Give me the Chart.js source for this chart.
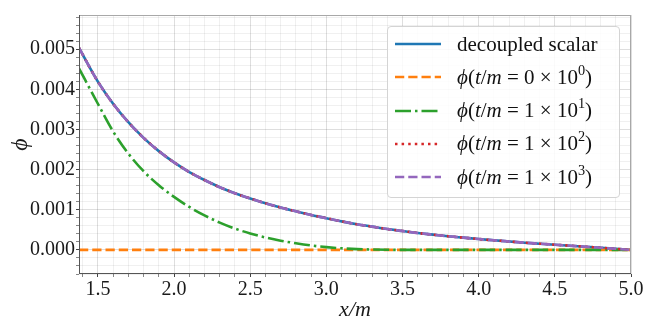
<!DOCTYPE html>
<html lang="en">
<head>
<meta charset="UTF-8">
<title>decoupled scalar</title>
<script src="https://cdn.jsdelivr.net/npm/chart.js"></script>
<style>
  body { margin: 0; background: #fff; }
  #wrap { position: relative; width: 665px; height: 323px; }
  #legend {
    position: absolute; left: 387px; top: 26px; width: 233px; height: 172px;
    box-sizing: border-box; border: 1px solid #d4d4d4; border-radius: 4px;
    background: rgba(255,255,255,0.85);
    font-family: 'Liberation Serif', serif; font-size: 21px; color: #111;
  }
  .row { position: absolute; left: 0; height: 30px; display: flex; align-items: center; white-space: nowrap; }
  .row svg { margin-left: 7px; margin-right: 16px; }
  sup { font-size: 0.68em; line-height: 0; vertical-align: 0.6em; }
</style>
</head>
<body>
<div id="wrap">
  <canvas id="c" width="665" height="323"></canvas>
  <div id="legend"></div>
</div>
<script>
// x/m sample positions
const xs = [1.376, 1.5, 1.6, 1.7, 1.8, 1.9, 2.0, 2.1, 2.2, 2.3, 2.4, 2.5, 2.6, 2.7, 2.8, 2.9,
            3.0, 3.1, 3.2, 3.3, 3.4, 3.5, 3.6, 3.7, 3.8, 3.9, 4.0, 4.1, 4.2, 4.3, 4.4, 4.5,
            4.6, 4.7, 4.8, 4.9, 5.0];
// decoupled scalar
const decoupled = [0.00503, 0.00419, 0.00364, 0.00318, 0.00279, 0.00246, 0.00218, 0.00194, 0.00174, 0.00156, 0.00141, 0.00128, 0.00116, 0.001055, 0.00096, 0.00087,
                   0.00079, 0.00071, 0.00064, 0.00058, 0.00052, 0.00047, 0.00042, 0.00038, 0.00034, 0.000305, 0.00027, 0.00024, 0.00021, 0.00018, 0.000155, 0.00013,
                   0.000105, 0.00008, 0.000055, 0.000027, 0.0];
// phi at t/m = 0, 10, 100, 1000
const phiT0 = [0, 0, 0, 0, 0, 0, 0, 0, 0, 0, 0, 0, 0, 0, 0, 0, 0, 0, 0, 0, 0, 0, 0, 0, 0, 0, 0, 0, 0, 0, 0, 0, 0, 0, 0, 0, 0];
const phiT1 = [0.00452, 0.00364, 0.00295, 0.00240, 0.00196, 0.00161, 0.00132, 0.00107, 0.00086, 0.00068, 0.00053, 0.00041, 0.00031, 0.00023, 0.000165, 0.00011,
               0.00007, 0.00004, 0.00002, 0.00001, 0.000004, 0, 0, 0, 0, 0, 0, 0, 0, 0, 0, 0,
               0, 0, 0, 0, 0];
const phiT2 = [0.00503, 0.00419, 0.00364, 0.00318, 0.00279, 0.00246, 0.00218, 0.00194, 0.00174, 0.00156, 0.00141, 0.00128, 0.00116, 0.001055, 0.00096, 0.00087,
               0.00079, 0.00071, 0.00064, 0.00058, 0.00052, 0.00047, 0.00042, 0.00038, 0.00034, 0.000305, 0.00027, 0.00024, 0.00021, 0.00018, 0.000155, 0.00013,
               0.000105, 0.00008, 0.000055, 0.000027, 0.0];
const phiT3 = [0.00503, 0.00419, 0.00364, 0.00318, 0.00279, 0.00246, 0.00218, 0.00194, 0.00174, 0.00156, 0.00141, 0.00128, 0.00116, 0.001055, 0.00096, 0.00087,
               0.00079, 0.00071, 0.00064, 0.00058, 0.00052, 0.00047, 0.00042, 0.00038, 0.00034, 0.000305, 0.00027, 0.00024, 0.00021, 0.00018, 0.000155, 0.00013,
               0.000105, 0.00008, 0.000055, 0.000027, 0.0];

const xRange = [1.376, 5.0];
const yRange = [-0.0006, 0.00585];

const legendHtml = [
  'decoupled scalar',
  '<i>ϕ</i>(<i>t</i>/<i>m</i> = 0 × 10<sup>0</sup>)',
  '<i>ϕ</i>(<i>t</i>/<i>m</i> = 1 × 10<sup>1</sup>)',
  '<i>ϕ</i>(<i>t</i>/<i>m</i> = 1 × 10<sup>2</sup>)',
  '<i>ϕ</i>(<i>t</i>/<i>m</i> = 1 × 10<sup>3</sup>)'
];

const series = [
  { data: decoupled, color: '#1f77b4', dash: [] },
  { data: phiT0, color: '#ff7f0e', dash: [9.25, 4] },
  { data: phiT1, color: '#2ca02c', dash: [16, 4, 2.5, 4] },
  { data: phiT2, color: '#d62728', dash: [2.5, 4.1] },
  { data: phiT3, color: '#9467bd', dash: [9.25, 4] }
];

const LW = 2.6;
const datasets = series.map((s, i) => ({
  data: xs.map((x, j) => ({ x: x, y: s.data[j] })),
  borderColor: s.color,
  borderWidth: LW,
  borderDash: s.dash,
  borderCapStyle: 'butt',
  pointRadius: 0,
  fill: false,
  cubicInterpolationMode: 'monotone',
  order: series.length - i
}));

// legend (HTML overlay)
const leg = document.getElementById('legend');
series.forEach((s, i) => {
  const row = document.createElement('div');
  row.className = 'row';
  row.style.top = (2 + i * 33.33) + 'px';
  row.innerHTML = '<svg width="46" height="6"><line x1="0" y1="3" x2="46" y2="3" stroke="' + s.color +
    '" stroke-width="' + LW + '" stroke-dasharray="' + (s.dash.length ? s.dash.join(' ') : 'none') + '"/></svg>' +
    '<span>' + legendHtml[i] + '</span>';
  leg.appendChild(row);
});

const frame = {
  id: 'frame',
  afterDatasetsDraw(chart) {
    const { ctx, chartArea: a } = chart;
    ctx.save();
    ctx.lineWidth = 1;
    ctx.strokeStyle = '#a8a8a8';
    ctx.beginPath();
    ctx.moveTo(a.left, a.top + 0.5); ctx.lineTo(a.right, a.top + 0.5);
    ctx.moveTo(a.right - 0.5, a.top); ctx.lineTo(a.right - 0.5, a.bottom);
    ctx.stroke();
    ctx.strokeStyle = '#555';
    ctx.beginPath();
    ctx.moveTo(a.left + 0.5, a.top); ctx.lineTo(a.left + 0.5, a.bottom);
    ctx.moveTo(a.left, a.bottom - 0.5); ctx.lineTo(a.right, a.bottom - 0.5);
    ctx.stroke();
    ctx.restore();
  }
};

const tickFont = { family: 'Liberation Serif', size: 20 };
const gridColor = c => (c.tick && c.tick.isMajor) ? 'rgba(0,0,0,0.13)' : 'rgba(0,0,0,0.06)';
const tickColor = c => (c.tick && c.tick.isMajor) ? '#444' : '#888';

new Chart(document.getElementById('c'), {
  type: 'line',
  data: { datasets: datasets },
  plugins: [frame],
  options: {
    responsive: false,
    animation: false,
    layout: { padding: { top: 15, right: 34, left: 0, bottom: 0 } },
    plugins: { legend: { display: false }, tooltip: { enabled: false } },
    scales: {
      x: {
        type: 'linear',
        min: xRange[0], max: xRange[1],
        afterBuildTicks: s => {
          const t = [];
          for (let k = 14; k <= 50; k++) t.push({ value: k / 10, isMajor: k % 5 === 0 });
          s.ticks = t;
        },
        afterFit: s => { s.height = 49; },
        ticks: {
          autoSkip: false, maxRotation: 0, padding: 1,
          color: '#1a1a1a', font: tickFont,
          callback: (v, i, t) => t[i].isMajor ? v.toFixed(1) : ''
        },
        grid: { color: gridColor, tickColor: tickColor, tickLength: 3, lineWidth: 1 },
        border: { display: false },
        title: {
          display: true, text: 'x/m', color: '#1a1a1a',
          font: { family: 'Liberation Serif', size: 22, style: 'italic' },
          padding: { top: 0, bottom: 0 }
        }
      },
      y: {
        type: 'linear',
        min: yRange[0], max: yRange[1],
        afterBuildTicks: s => {
          const t = [];
          for (let k = -3; k <= 29; k++) t.push({ value: Math.round(k * 2) / 10000, isMajor: k % 5 === 0 });
          s.ticks = t;
        },
        afterFit: s => { s.width = 79; },
        ticks: {
          autoSkip: false, padding: 1,
          color: '#1a1a1a', font: tickFont,
          callback: (v, i, t) => t[i].isMajor ? v.toFixed(3) : ''
        },
        grid: { color: gridColor, tickColor: tickColor, tickLength: 3, lineWidth: 1 },
        border: { display: false },
        title: {
          display: true, text: 'ϕ', color: '#1a1a1a',
          font: { family: 'Liberation Serif', size: 24, style: 'italic' },
          padding: { top: 6, bottom: 0 }
        }
      }
    }
  }
});
</script>
</body>
</html>
